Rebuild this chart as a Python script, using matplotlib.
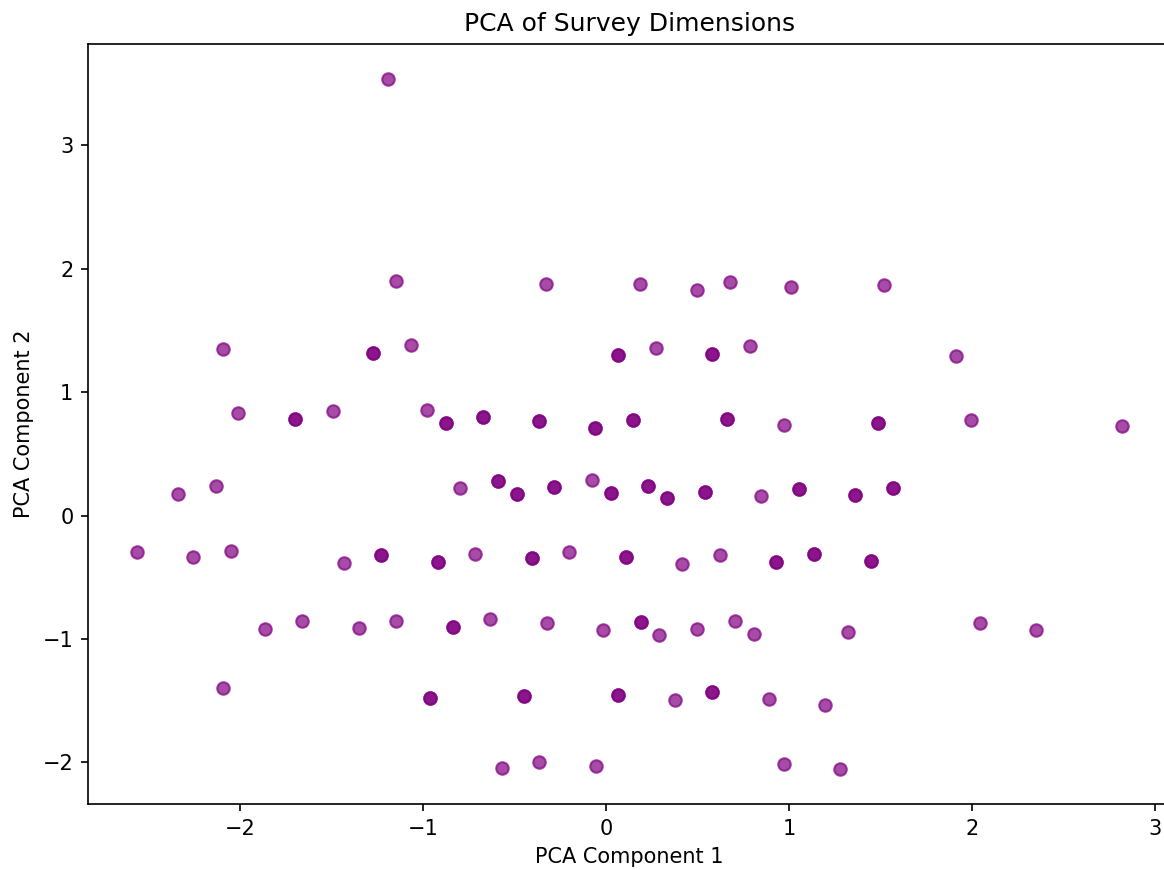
import matplotlib
matplotlib.use('Agg')
import matplotlib.pyplot as plt
import numpy as np

# PCA scores; count = how many respondents sit on the same spot
pc1 = [-1.191,
       -1.148, -0.328, 0.186, 0.497, 0.678, 1.011, 1.519,
       -2.093, -1.273, -1.066, 0.066, 0.273, 0.579, 0.787, 1.913,
       -2.011, -1.699, -1.492, -0.978, -0.874, -0.672, -0.366, -0.060, 0.148, 0.661, 0.973, 1.486, 1.995, 2.820,
       -2.339, -2.131, -0.798, -0.590, -0.486, -0.284, -0.077, 0.027, 0.230, 0.333, 0.541, 0.847, 1.055, 1.361, 1.568,
       -2.563, -2.257, -2.049, -1.432, -1.230, -0.918, -0.716, -0.404, -0.202, 0.109, 0.415, 0.623, 0.929, 1.137, 1.448,
       -1.863, -1.661, -1.350, -1.148, -0.836, -0.634, -0.322, -0.016, 0.191, 0.290, 0.497, 0.705, 0.809, 1.322, 2.044, 2.350,
       -2.093, -0.962, -0.448, 0.066, 0.377, 0.579, 0.891, 1.197,
       -0.568, -0.366, -0.055, 0.973, 1.279]
pc2 = [3.541,
       1.904, 1.872, 1.880, 1.831, 1.896, 1.848, 1.864,
       1.353, 1.313, 1.378, 1.297, 1.361, 1.305, 1.370, 1.289,
       0.827, 0.778, 0.843, 0.851, 0.746, 0.802, 0.762, 0.713, 0.770, 0.786, 0.737, 0.746, 0.770, 0.729,
       0.178, 0.243, 0.219, 0.276, 0.178, 0.235, 0.284, 0.186, 0.243, 0.138, 0.194, 0.154, 0.211, 0.170, 0.219,
       -0.292, -0.340, -0.284, -0.381, -0.324, -0.373, -0.308, -0.348, -0.292, -0.340, -0.389, -0.324, -0.373, -0.316, -0.365,
       -0.916, -0.859, -0.908, -0.851, -0.900, -0.835, -0.875, -0.924, -0.867, -0.972, -0.916, -0.851, -0.964, -0.948, -0.875, -0.924,
       -1.394, -1.475, -1.459, -1.451, -1.499, -1.434, -1.483, -1.532,
       -2.050, -1.994, -2.034, -2.010, -2.058]
count = [1,
         1, 1, 1, 1, 1, 1, 1,
         1, 2, 1, 2, 1, 2, 1, 1,
         1, 2, 1, 1, 2, 2, 2, 2, 2, 2, 1, 2, 1, 1,
         1, 1, 1, 2, 2, 2, 1, 2, 2, 2, 2, 1, 2, 2, 2,
         1, 1, 1, 1, 2, 2, 1, 2, 1, 2, 1, 1, 2, 2, 2,
         1, 1, 1, 1, 2, 1, 1, 1, 2, 1, 1, 1, 1, 1, 1, 1,
         1, 2, 2, 2, 1, 2, 1, 1,
         1, 1, 1, 1, 1]

x = np.repeat(pc1, count)
y = np.repeat(pc2, count)

fig = plt.figure(figsize=(7.76, 5.8), dpi=150)
ax = fig.add_axes([88 / 1164, 66 / 870, (1171 - 88) / 1164, (804 - 44) / 870])
ax.scatter(x, y, color='purple', alpha=0.7)
ax.set_title('PCA of Survey Dimensions')
ax.set_xlabel('PCA Component 1')
ax.set_ylabel('PCA Component 2')
fig.savefig('out.png', dpi=150)
